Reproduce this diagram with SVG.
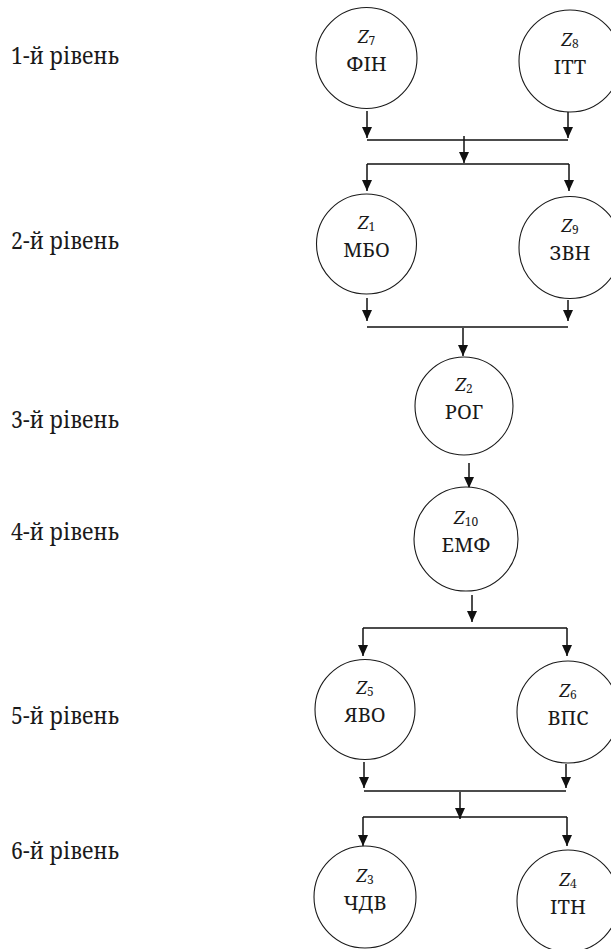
<svg xmlns="http://www.w3.org/2000/svg" width="611" height="949" viewBox="0 0 611 949">
  <style>
    text { font-family: 'Noto Serif', 'DejaVu Serif', serif; fill: #1a1a1a; }
    .node circle { fill: #fff; stroke: #1a1a1a; stroke-width: 1.1; }
    .z { font-style: italic; font-size: 18px; text-anchor: middle; }
    .sub { font-style: normal; font-size: 12px; }
    .abbr { font-size: 20px; text-anchor: middle; }
    .level { font-size: 23px; }
    .conn line { stroke: #111; stroke-width: 1.5; fill: none; }
    .conn line.arrow { marker-end: url(#ah); }
  </style>
  <defs>
    <marker id="ah" markerUnits="userSpaceOnUse" markerWidth="11" markerHeight="11" viewBox="0 0 11 10" refX="11" refY="5" orient="auto">
      <path d="M0,0 L11,5 L0,10 z" fill="#111"/>
    </marker>
  </defs>

  <rect width="611" height="949" fill="#fff"/>

  <!-- level captions -->
  <g id="levels">
    <text class="level" x="11" y="64" textLength="108" lengthAdjust="spacingAndGlyphs">1-й рівень</text>
    <text class="level" x="11" y="249" textLength="108" lengthAdjust="spacingAndGlyphs">2-й рівень</text>
    <text class="level" x="11" y="428" textLength="108" lengthAdjust="spacingAndGlyphs">3-й рівень</text>
    <text class="level" x="11" y="540" textLength="108" lengthAdjust="spacingAndGlyphs">4-й рівень</text>
    <text class="level" x="11" y="724" textLength="108" lengthAdjust="spacingAndGlyphs">5-й рівень</text>
    <text class="level" x="11" y="859" textLength="108" lengthAdjust="spacingAndGlyphs">6-й рівень</text>
  </g>

  <!-- connectors -->
  <g id="connectors" class="conn">
    <!-- level 1 -> level 2 -->
    <line class="arrow" x1="367" y1="111" x2="367" y2="138"/>
    <line class="arrow" x1="568" y1="112" x2="568" y2="138"/>
    <line x1="367" y1="140" x2="568" y2="140"/>
    <line class="arrow" x1="464" y1="136" x2="464" y2="163"/>
    <line x1="367" y1="164" x2="569" y2="164"/>
    <line class="arrow" x1="367" y1="164" x2="367" y2="191"/>
    <line class="arrow" x1="569" y1="164" x2="569" y2="191"/>
    <!-- level 2 -> level 3 -->
    <line class="arrow" x1="367" y1="298" x2="367" y2="321"/>
    <line class="arrow" x1="568" y1="300" x2="568" y2="321"/>
    <line x1="367" y1="327" x2="568" y2="327"/>
    <line class="arrow" x1="463" y1="328" x2="463" y2="356"/>
    <!-- level 3 -> level 4 -->
    <line class="arrow" x1="469" y1="463" x2="469" y2="488"/>
    <!-- level 4 -> level 5 -->
    <line class="arrow" x1="472" y1="595" x2="472" y2="622"/>
    <line x1="363" y1="628" x2="567" y2="628"/>
    <line class="arrow" x1="363" y1="628" x2="363" y2="656"/>
    <line class="arrow" x1="567" y1="628" x2="567" y2="656"/>
    <!-- level 5 -> level 6 -->
    <line class="arrow" x1="364" y1="762" x2="364" y2="788"/>
    <line class="arrow" x1="566" y1="764" x2="566" y2="788"/>
    <line x1="364" y1="791" x2="566" y2="791"/>
    <line class="arrow" x1="460" y1="792" x2="460" y2="819"/>
    <line x1="363" y1="817" x2="567" y2="817"/>
    <line class="arrow" x1="363" y1="817" x2="363" y2="846"/>
    <line class="arrow" x1="567" y1="817" x2="567" y2="846"/>
  </g>

  <!-- nodes -->
  <g id="z7" class="node">
    <circle cx="366.5" cy="58" r="50.5"/>
    <text class="z" x="366.5" y="43">Z<tspan class="sub" dy="2">7</tspan></text>
    <text class="abbr" x="366.5" y="71">ФІН</text>
  </g>
  <g id="z8" class="node">
    <circle cx="570" cy="61" r="51"/>
    <text class="z" x="570" y="46">Z<tspan class="sub" dy="2">8</tspan></text>
    <text class="abbr" x="570" y="74">ІТТ</text>
  </g>
  <g id="z1" class="node">
    <circle cx="366.5" cy="244" r="50"/>
    <text class="z" x="366.5" y="229">Z<tspan class="sub" dy="2">1</tspan></text>
    <text class="abbr" x="366.5" y="257">МБО</text>
  </g>
  <g id="z9" class="node">
    <circle cx="570" cy="247.5" r="51"/>
    <text class="z" x="570" y="232">Z<tspan class="sub" dy="2">9</tspan></text>
    <text class="abbr" x="570" y="260">ЗВН</text>
  </g>
  <g id="z2" class="node">
    <circle cx="464" cy="406" r="49"/>
    <text class="z" x="464" y="391">Z<tspan class="sub" dy="2">2</tspan></text>
    <text class="abbr" x="464" y="419">РОГ</text>
  </g>
  <g id="z10" class="node">
    <circle cx="466" cy="539" r="52"/>
    <text class="z" x="466" y="524">Z<tspan class="sub" dy="2">10</tspan></text>
    <text class="abbr" x="466" y="552">ЕМФ</text>
  </g>
  <g id="z5" class="node">
    <circle cx="365" cy="709.5" r="50"/>
    <text class="z" x="365" y="694">Z<tspan class="sub" dy="2">5</tspan></text>
    <text class="abbr" x="365" y="722">ЯВО</text>
  </g>
  <g id="z6" class="node">
    <circle cx="568" cy="712" r="51"/>
    <text class="z" x="568" y="697">Z<tspan class="sub" dy="2">6</tspan></text>
    <text class="abbr" x="568" y="725">ВПС</text>
  </g>
  <g id="z3" class="node">
    <circle cx="365" cy="897" r="51"/>
    <text class="z" x="365" y="882">Z<tspan class="sub" dy="2">3</tspan></text>
    <text class="abbr" x="365" y="910">ЧДВ</text>
  </g>
  <g id="z4" class="node">
    <circle cx="568" cy="901" r="51"/>
    <text class="z" x="568" y="886">Z<tspan class="sub" dy="2">4</tspan></text>
    <text class="abbr" x="568" y="914">ІТН</text>
  </g>
</svg>
